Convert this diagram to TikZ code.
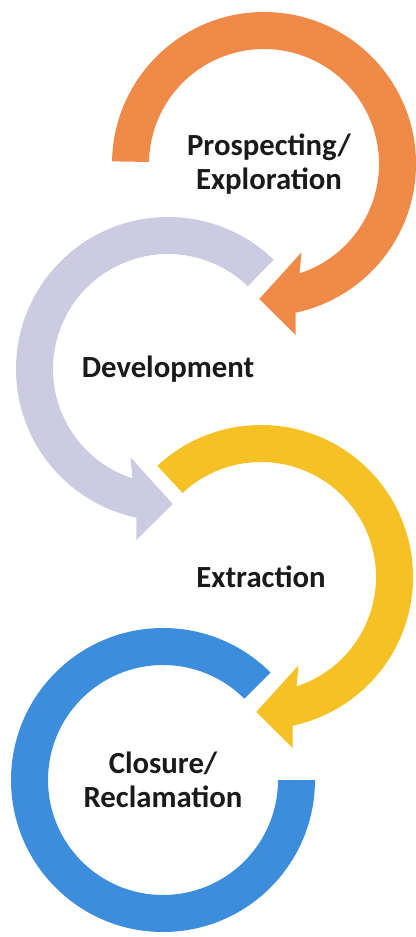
\documentclass[tikz,border=0pt]{standalone}
\usepackage{fontspec}
\setmainfont{Carlito}
\definecolor{orangering}{HTML}{F08A48}
\definecolor{lilacring}{HTML}{CBCBE2}
\definecolor{yellowring}{HTML}{F6C125}
\definecolor{bluering}{HTML}{3C8DDC}
\definecolor{labeltext}{HTML}{1A1A1A}

\begin{document}
\begin{tikzpicture}[x=0.02cm, y=0.02cm,
    stage/.style={font=\bfseries\fontsize{17.5}{19.5}\selectfont, align=center, text=labeltext}]
    \useasboundingbox (0,0) rectangle (416,-937);

    %mark centres of the rings
        \coordinate[] (P) at (264,-164);
        \coordinate[] (D) at (168,-369);
        \coordinate[] (E) at (261,-577);
        \coordinate[] (C) at (163,-780);

    %draw rings with arrow heads
        \begin{scope}[shift={(P)}]
        \fill[orangering] (179:152) arc[start angle=179, end angle=-78, radius=152] -- (-79.5:174) -- (-92:135) -- (-67:96) -- (-72:115) arc[start angle=-72, end angle=179, radius=115] -- cycle;
        \end{scope}
        \begin{scope}[shift={(D)}]
        \fill[lilacring] (46:152) arc[start angle=46, end angle=258, radius=152] -- (259.5:174) -- (272:135) -- (247:96) -- (252:115) arc[start angle=252, end angle=46, radius=115] -- cycle;
        \end{scope}
        \begin{scope}[shift={(E)}]
        \fill[yellowring] (133:152) arc[start angle=133, end angle=-78, radius=152] -- (-79.5:174) -- (-92:135) -- (-67:96) -- (-72:115) arc[start angle=-72, end angle=133, radius=115] -- cycle;
        \end{scope}
        \begin{scope}[shift={(C)}]
        \fill[bluering] (45:152) arc[start angle=45, end angle=360, radius=152] -- (0:115) arc[start angle=360, end angle=45, radius=115] -- cycle;
        \end{scope}

    %stage names
        \node[stage, xshift=0.1cm] (prospecting) at (P) {Prospecting/\\Exploration};
        \node[stage] (development) at (D) {Development};
        \node[stage] (extraction) at (E) {Extraction};
        \node[stage] (closure) at (C) {Closure/\\Reclamation};

\end{tikzpicture}
\end{document}
